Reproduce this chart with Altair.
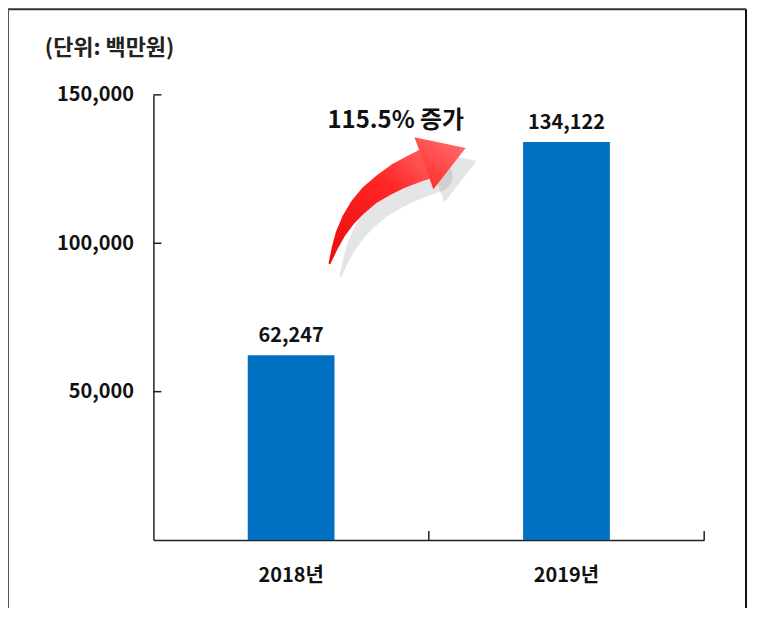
import altair as alt
import pandas as pd

# ---- data ----
years = ["2018년", "2019년"]
amounts = [62247, 134122]
y_ticks = [50000, 100000, 150000]
x_boundaries = [1, 2]          # category boundaries (between / after the bands)
unit_text = ["(단위: 백만원)"]
note_text = ["115.5% 증가"]
note_pos = [0.88]              # position between the categories (band units)
note_val = [141300]

# arrow (annotation) centerline in band units / value units, with widths
arrow_x = [0.640, 0.658, 0.680, 0.709, 0.745, 0.788, 0.839, 0.893, 0.948, 0.991]
arrow_y = [93289, 98322, 103356, 108054, 112416, 116443, 119799, 122819, 125168, 126846]
arrow_w = [2, 6, 10, 14, 18, 21, 24, 27, 29, 31]
head_x = [1.058]
head_y = [129500]

FONT = "Noto Sans CJK KR"
W, H = 553, 447

bars_df = pd.DataFrame({"year": years, "value": amounts})
ytick_df = pd.DataFrame({"v": y_ticks})
xtick_df = pd.DataFrame({"pos": x_boundaries})
note_df = pd.DataFrame({"t": note_text, "pos": note_pos, "v": note_val})
unit_df = pd.DataFrame({"t": unit_text})
arrow_df = pd.DataFrame({"pos": arrow_x, "v": arrow_y, "w": arrow_w,
                         "o": list(range(len(arrow_x)))})
head_df = pd.DataFrame({"pos": head_x, "v": head_y})

yscale = alt.Scale(domain=[0, 150000], nice=False)
qx = alt.Scale(domain=[0, 2], nice=False, zero=False)
band = alt.Scale(paddingInner=0.685, paddingOuter=0.3425)

bars = alt.Chart(bars_df).mark_bar(color="#0070C0").encode(
    x=alt.X("year:N", sort=years, title=None, scale=band,
            axis=alt.Axis(labelAngle=0, ticks=False, labelPadding=26,
                          labelFont=FONT, labelFontSize=20, labelFontWeight="bold",
                          labelColor="#111", domainColor="#222", domainWidth=1.5)),
    y=alt.Y("value:Q", scale=yscale, title=None,
            axis=alt.Axis(values=y_ticks, format=",d", ticks=False, grid=False,
                          labelPadding=20, labelFont=FONT, labelFontSize=20,
                          labelFontWeight="bold", labelColor="#111",
                          domainColor="#222", domainWidth=1.5)),
)

bar_labels = alt.Chart(bars_df).mark_text(
    font=FONT, fontSize=20, fontWeight="bold", color="#111",
    baseline="alphabetic", dy=-13
).encode(
    x=alt.X("year:N", sort=years, scale=band, axis=None),
    y=alt.Y("value:Q", scale=yscale, title=None),
    text=alt.Text("value:Q", format=",d"),
)

yticks = alt.Chart(ytick_df).mark_rule(color="#222", strokeWidth=1.5).encode(
    y=alt.Y("v:Q", scale=yscale, title=None),
    x=alt.value(0), x2=alt.value(8),
)

xticks = alt.Chart(xtick_df).mark_rule(color="#222", strokeWidth=1.5).encode(
    x=alt.X("pos:Q", scale=qx, axis=None),
    y=alt.value(H - 9), y2=alt.value(H),
)

red_grad = alt.Gradient(
    gradient="linear",
    stops=[alt.GradientStop(color="#EE0A0A", offset=0),
           alt.GradientStop(color="#FF2626", offset=0.6),
           alt.GradientStop(color="#FF6E6E", offset=1)],
    x1=0, y1=1, x2=1, y2=0,
)
head_grad = alt.Gradient(
    gradient="linear",
    stops=[alt.GradientStop(color="#FF3030", offset=0),
           alt.GradientStop(color="#FF7A7A", offset=1)],
    x1=0, y1=1, x2=1, y2=0,
)

HEAD_SHAPE = "M-0.8,-1L0.8,0L-0.8,1Z"


def trail(**mk):
    return alt.Chart(arrow_df).mark_trail(**mk).encode(
        x=alt.X("pos:Q", scale=qx, axis=None),
        y=alt.Y("v:Q", scale=yscale, title=None),
        size=alt.Size("w:Q", scale=None, legend=None),
        order="o:O",
    )


def head(opacity=1.0, **mk):
    return alt.Chart(head_df).mark_point(
        shape=HEAD_SHAPE, size=3100, angle=340, filled=True, opacity=opacity, **mk
    ).encode(
        x=alt.X("pos:Q", scale=qx, axis=None),
        y=alt.Y("v:Q", scale=yscale, title=None),
    )


shadow_body = trail(color="#8a8a8a", opacity=0.22, xOffset=11, yOffset=13)
shadow_head = head(opacity=0.22, color="#8a8a8a", xOffset=11, yOffset=13)
arrow_body = trail(color=red_grad)
arrow_head = head(color=head_grad)

note = alt.Chart(note_df).mark_text(
    font=FONT, fontSize=24, fontWeight="bold", color="#111"
).encode(
    x=alt.X("pos:Q", scale=qx, axis=None),
    y=alt.Y("v:Q", scale=yscale, title=None),
    text="t:N",
)

unit = alt.Chart(unit_df).mark_text(
    font=FONT, fontSize=22, fontWeight="bold", color="#222",
    align="left", baseline="middle"
).encode(x=alt.value(-109), y=alt.value(-47), text="t:N")

one = pd.DataFrame({"a": [0]})
frame_top = alt.Chart(one).mark_rule(color="#333", strokeWidth=2).encode(
    x=alt.value(-146), x2=alt.value(595), y=alt.value(-86))
frame_left = alt.Chart(one).mark_rule(color="#555", strokeWidth=2).encode(
    x=alt.value(-146), y=alt.value(-86), y2=alt.value(540))
frame_right = alt.Chart(one).mark_rule(color="#111", strokeWidth=2).encode(
    x=alt.value(595), y=alt.value(-86), y2=alt.value(540))

chart = alt.layer(
    bars, bar_labels, yticks, xticks,
    shadow_body, shadow_head, arrow_body, arrow_head, note, unit,
    frame_top, frame_left, frame_right,
).resolve_scale(x="independent").properties(
    width=W, height=H,
    background="white",
    autosize=alt.AutoSizeParams(type="none"),
    padding={"left": 146, "top": 86, "right": 45, "bottom": 67},
).configure_view(stroke="transparent", strokeWidth=0)

chart.save("out.html", embed_options={"renderer": "svg", "actions": False})
